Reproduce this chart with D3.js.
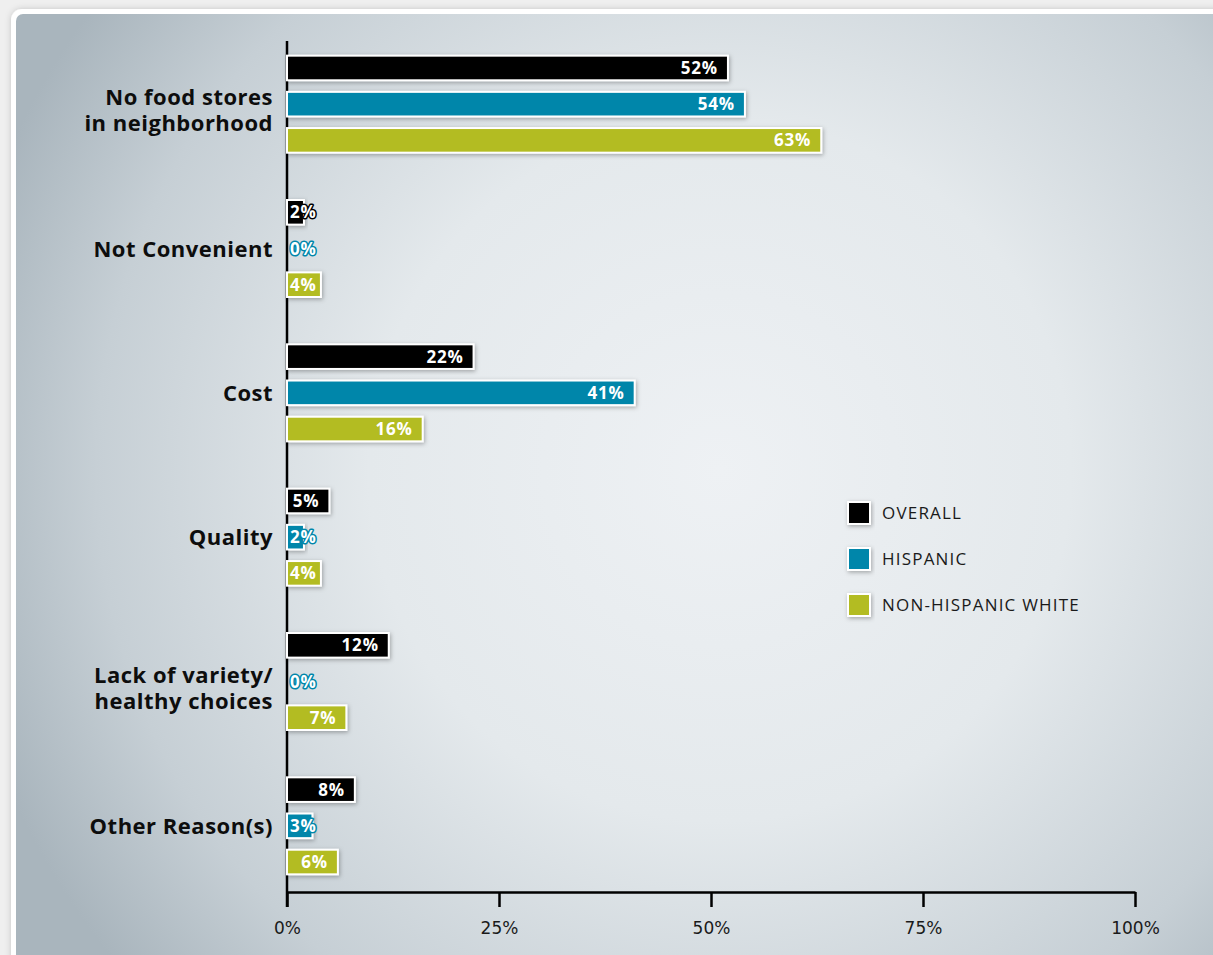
<!DOCTYPE html>
<html>
<head>
<meta charset="utf-8">
<script src="https://cdn.jsdelivr.net/npm/d3@7/dist/d3.min.js"></script>
<style>
  html, body { margin: 0; padding: 0; background: #efefef; }
  svg { display: block; }
</style>
</head>
<body>
<svg id="chart" width="1213" height="955"></svg>
<script>
// ---- data ----
const categories = [
  ["No food stores", "in neighborhood"],
  ["Not Convenient"],
  ["Cost"],
  ["Quality"],
  ["Lack of variety/", "healthy choices"],
  ["Other Reason(s)"]
];
const series = ["OVERALL", "HISPANIC", "NON-HISPANIC WHITE"];
const overall    = [52, 2, 22, 5, 12, 8];
const hispanic   = [54, 0, 41, 2, 0, 3];
const nonHispWhite = [63, 4, 16, 4, 7, 6];
const seriesValues = [overall, hispanic, nonHispWhite];
const colors = ["#000000", "#0086aa", "#b3bc20"];
const xTicks = [0, 25, 50, 75, 100];

// ---- setup ----
const svg = d3.select("#chart");
const W = 1213, H = 955;
const font = "'Open Sans', 'DejaVu Sans', sans-serif";
const tickFont = "'DejaVu Sans', sans-serif";

const defs = svg.append("defs");
const rg = defs.append("radialGradient").attr("id", "bg")
  .attr("gradientUnits", "userSpaceOnUse")
  .attr("cx", 720).attr("cy", 470).attr("r", 780);
rg.append("stop").attr("offset", "0%").attr("stop-color", "#eef1f4");
rg.append("stop").attr("offset", "45%").attr("stop-color", "#e4e9ec");
rg.append("stop").attr("offset", "80%").attr("stop-color", "#c6cfd5");
rg.append("stop").attr("offset", "100%").attr("stop-color", "#a9b5bd");

const sh = defs.append("filter").attr("id", "shadow")
  .attr("x", "-20%").attr("y", "-40%").attr("width", "140%").attr("height", "180%");
sh.append("feDropShadow").attr("dx", 1).attr("dy", 1.5).attr("stdDeviation", 2)
  .attr("flood-color", "#000").attr("flood-opacity", 0.3);

const fsh = defs.append("filter").attr("id", "fshadow")
  .attr("x", "-5%").attr("y", "-5%").attr("width", "110%").attr("height", "110%");
fsh.append("feDropShadow").attr("dx", 0).attr("dy", 0).attr("stdDeviation", 3)
  .attr("flood-color", "#000").attr("flood-opacity", 0.18);

// outer frame
svg.append("rect").attr("x", 0).attr("y", 0).attr("width", W).attr("height", H).attr("fill", "#efefef");
svg.append("rect").attr("x", 11).attr("y", 9).attr("width", W + 20).attr("height", H + 20)
  .attr("rx", 11).attr("fill", "#ffffff").attr("filter", "url(#fshadow)");
svg.append("rect").attr("x", 16).attr("y", 14).attr("width", W + 20).attr("height", H + 20)
  .attr("rx", 7).attr("fill", "url(#bg)");

// scales
const x = d3.scaleLinear().domain([0, 100]).range([287, 1135]);
const y0 = d3.scaleBand().domain(d3.range(categories.length)).range([32, 898]);
const bw = y0.bandwidth();
const y1 = d3.scaleBand().domain(d3.range(series.length))
  .range([bw / 2 - 48.5, bw / 2 + 48.5]).paddingInner(0.32);

// axis
const axisG = svg.append("g").attr("transform", "translate(0,892)");
const xAxis = d3.axisBottom(x).tickValues(xTicks).tickFormat(d => d + "%")
  .tickSizeInner(15).tickSizeOuter(0).tickPadding(15);
axisG.call(xAxis);
axisG.select(".domain").attr("stroke", "#000").attr("stroke-width", 2.5);
axisG.selectAll(".tick line").attr("stroke", "#000").attr("stroke-width", 2.5);
axisG.selectAll(".tick text").attr("font-family", tickFont).attr("font-size", 17)
  .attr("fill", "#1a1a1a").attr("font-weight", 400);

// vertical axis line
svg.append("line").attr("x1", x(0)).attr("x2", x(0)).attr("y1", 41).attr("y2", 907)
  .attr("stroke", "#000").attr("stroke-width", 2.5);

// category labels
const catG = svg.append("g");
categories.forEach((lines, i) => {
  const cy = y0(i) + bw / 2;
  const t = catG.append("text")
    .attr("x", 273).attr("text-anchor", "end")
    .attr("font-family", font).attr("font-weight", 700).attr("font-size", 22)
    .attr("letter-spacing", 0.5)
    .attr("fill", "#0d0d0d");
  if (lines.length === 1) {
    t.append("tspan").attr("x", 273).attr("y", cy + 8).text(lines[0]);
  } else {
    t.append("tspan").attr("x", 273).attr("y", cy + 1).text(lines[0]);
    t.append("tspan").attr("x", 273).attr("y", cy + 27).text(lines[1]);
  }
});

// bars
const barsG = svg.append("g");
categories.forEach((c, i) => {
  seriesValues.forEach((vals, s) => {
    const v = vals[i];
    const yy = y0(i) + y1(s);
    const h = y1.bandwidth();
    if (v > 0) {
      barsG.append("rect")
        .attr("x", x(0)).attr("y", yy)
        .attr("width", x(v) - x(0)).attr("height", h)
        .attr("fill", colors[s]).attr("stroke", "#fff").attr("stroke-width", 2)
        .attr("filter", "url(#shadow)");
    }
  });
});

// value labels
const labG = svg.append("g");
categories.forEach((c, i) => {
  seriesValues.forEach((vals, s) => {
    const v = vals[i];
    const yy = y0(i) + y1(s) + y1.bandwidth() / 2;
    const t = labG.append("text")
      .attr("y", yy + 6)
      .attr("font-family", font).attr("font-weight", 700).attr("font-size", 17)
      .attr("letter-spacing", 0.8)
      .attr("fill", "#fff")
      .attr("stroke", colors[s]).attr("stroke-width", 3)
      .attr("stroke-linejoin", "round")
      .attr("paint-order", "stroke")
      .text(v + "%");
    const w = t.node().getComputedTextLength();
    const start = Math.max(x(0) + 3, x(v) - 10 - w);
    t.attr("x", start);
  });
});

// legend
const legG = svg.append("g").attr("transform", "translate(848,502)");
series.forEach((name, s) => {
  const g = legG.append("g").attr("transform", `translate(0,${s * 46})`);
  g.append("rect").attr("x", 0).attr("y", 0).attr("width", 22).attr("height", 22)
    .attr("fill", colors[s]).attr("stroke", "#fff").attr("stroke-width", 2)
    .attr("filter", "url(#shadow)");
  g.append("text").attr("x", 34).attr("y", 17)
    .attr("font-family", font).attr("font-size", 17).attr("letter-spacing", 1.2)
    .attr("fill", "#1a1a1a").text(name);
});
</script>
</body>
</html>
